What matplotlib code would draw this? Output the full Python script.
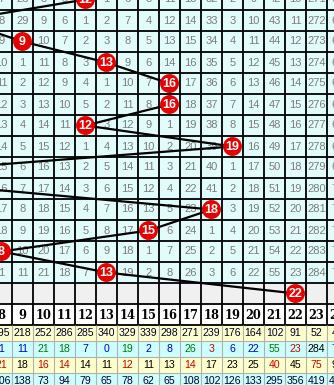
import matplotlib.pyplot as plt
import numpy as np

# drawn number for each period (rows top to bottom); some fall left of the window
draw_nums = [12, 6, 9, 13, 16, 16, 12, 19, 6, 7, 18, 15, 8, 13, 22]

# visible columns
col_nums = list(range(8, 25))

# omission counts per period, columns 8..24 (0 = drawn that period)
omission = [
    [7, 28, 8, 5, 0, 1, 6, 3, 11, 13, 32, 2, 9, 42, 10, 271, 61],
    [8, 29, 9, 6, 1, 2, 7, 4, 12, 14, 33, 3, 10, 43, 11, 272, 62],
    [9, 0, 10, 7, 2, 3, 8, 5, 13, 15, 34, 4, 11, 44, 12, 273, 63],
    [10, 1, 11, 8, 3, 0, 9, 6, 14, 16, 35, 5, 12, 45, 13, 274, 64],
    [11, 2, 12, 9, 4, 1, 10, 7, 0, 17, 36, 6, 13, 46, 14, 275, 65],
    [12, 3, 13, 10, 5, 2, 11, 8, 0, 18, 37, 7, 14, 47, 15, 276, 66],
    [13, 4, 14, 11, 0, 3, 12, 9, 1, 19, 38, 8, 15, 48, 16, 277, 67],
    [14, 5, 15, 12, 1, 4, 13, 10, 2, 20, 39, 0, 16, 49, 17, 278, 68],
    [15, 6, 16, 13, 2, 5, 14, 11, 3, 21, 40, 1, 17, 50, 18, 279, 69],
    [16, 7, 17, 14, 3, 6, 15, 12, 4, 22, 41, 2, 18, 51, 19, 280, 70],
    [17, 8, 18, 15, 4, 7, 16, 13, 5, 23, 0, 3, 19, 52, 20, 281, 71],
    [18, 9, 19, 16, 5, 8, 17, 0, 6, 24, 1, 4, 20, 53, 21, 282, 72],
    [0, 10, 20, 17, 6, 9, 18, 1, 7, 25, 2, 5, 21, 54, 22, 283, 73],
    [1, 11, 21, 18, 7, 0, 19, 2, 8, 26, 3, 6, 22, 55, 23, 284, 74],
]

# summary rows under the header
appear_cnt = [295, 218, 252, 286, 285, 340, 329, 339, 298, 271, 239, 176, 164, 102, 91, 52, 46]
cur_omit = [1, 11, 21, 18, 7, 0, 19, 2, 8, 26, 3, 6, 22, 55, 23, 284, 74]
max_omit = [21, 18, 16, 14, 14, 11, 12, 11, 13, 14, 17, 23, 25, 40, 45, 75, 96]
avg_omit = [106, 138, 73, 94, 79, 65, 78, 62, 65, 108, 102, 126, 133, 295, 356, 419, 431]

cur_colors = ['#0000cc', '#0000cc', '#007a00', '#007a00', '#0000cc', '#0000cc', '#007a00',
              '#0000cc', '#0000cc', '#007a00', '#cc0000', '#0000cc', '#0000cc', '#007a00',
              '#cc0000', '#000000', '#0000cc']
max_colors = ['#cc0000', '#000000', '#cc0000', '#cc0000', '#000000', '#000000', '#cc0000',
              '#000000', '#000000', '#cc0000', '#000000', '#000000', '#000000', '#cc0000',
              '#000000', '#cc0000', '#000000']

CELL_BG = '#e2fbfb'
YELLOW = '#ffffcc'
CYAN = '#ccffff'
n_rows = len(omission)
ball_row = n_rows            # row holding only the latest ball
head_row = n_rows + 1
stat_h = 16 / 21             # summary rows are shorter than grid rows

fig = plt.figure(figsize=(3.34, 3.85), dpi=100)
ax = fig.add_axes([0, 0, 1, 1])
ax.axis('off')
ax.set_xlim(166.5 / 21, 500.5 / 21)
ax.set_ylim(385.5 / 21, 0.5 / 21)

x_lo, x_hi = col_nums[0] - 4.5, col_nums[-1] + 1.5

# backgrounds
ax.axhspan(-0.5, n_rows - 0.5, color=CELL_BG, lw=0, zorder=0)
ax.axhspan(ball_row - 0.5, ball_row + 0.5, color='#f0f0f0', lw=0, zorder=0)
ax.axhspan(head_row - 0.5, head_row + 0.5, color='white', lw=0, zorder=0)
stat_top = head_row + 0.5
stat_rows = [(appear_cnt, None, YELLOW), (cur_omit, cur_colors, CYAN),
             (max_omit, max_colors, YELLOW), (avg_omit, None, CYAN)]
for i, (_, _, bg) in enumerate(stat_rows):
    ax.axhspan(stat_top + i * stat_h, stat_top + (i + 1) * stat_h, color=bg, lw=0, zorder=0)

# grid lines
ax.hlines(np.arange(-0.5, head_row + 1), x_lo, x_hi, color='black', lw=1.3, zorder=1)
ax.vlines(np.arange(x_lo, x_hi + 1), -0.5, head_row + 0.5, color='black', lw=1.3, zorder=1)
ax.hlines([stat_top + i * stat_h for i in range(1, 5)], x_lo, x_hi, color='#b0b0b0', lw=0.8, zorder=1)
ax.vlines(np.arange(x_lo, x_hi + 1), stat_top, stat_top + 4 * stat_h, color='#b0b0b0', lw=0.8, zorder=1)

# omission numbers
for r, row in enumerate(omission):
    for c, v in zip(col_nums, row):
        if v:
            ax.text(c, r, str(v), ha='center', va='center', fontsize=8,
                    family='Liberation Sans', color='#7c7c7c', zorder=2)

# trend line and balls
rows = np.arange(len(draw_nums))
ax.plot(draw_nums, rows, color='black', lw=1.6, zorder=3)
ax.scatter(draw_nums, rows, s=185, color='#e60000', edgecolors='none', zorder=4)
for r, n in zip(rows, draw_nums):
    if n >= col_nums[0]:
        ax.text(n, r + 0.03, str(n), ha='center', va='center', fontsize=9, fontweight='bold',
                family='Liberation Sans', color='white', zorder=5)

# header numbers
for c in col_nums:
    ax.text(c, head_row + 0.05, str(c), ha='center', va='center', fontsize=8.3,
            fontweight='bold', family='DejaVu Serif', color='black', zorder=2)

# summary rows
for i, (vals, colors, _) in enumerate(stat_rows):
    yc = stat_top + (i + 0.5) * stat_h
    for j, (c, v) in enumerate(zip(col_nums, vals)):
        col = colors[j] if colors else '#000033'
        ax.text(c, yc, str(v), ha='center', va='center', fontsize=7.6,
                family='Liberation Sans', color=col, zorder=2)

fig.savefig('out.png', dpi=100)
